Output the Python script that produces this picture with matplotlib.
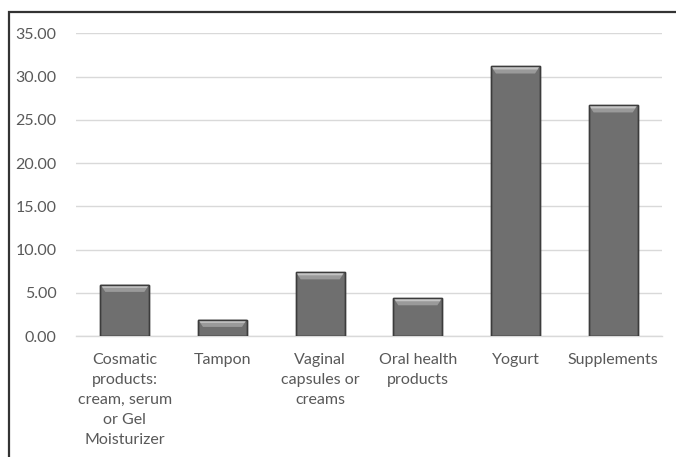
import matplotlib
matplotlib.use("Agg")
import matplotlib.pyplot as plt
from matplotlib.patches import Polygon, Rectangle
import numpy as np

categories = ["Cosmatic\nproducts:\ncream, serum\nor Gel\nMoisturizer",
              "Tampon",
              "Vaginal\ncapsules or\ncreams",
              "Oral health\nproducts",
              "Yogurt",
              "Supplements"]
values = [5.95, 1.9, 7.4, 4.4, 31.2, 26.7]
yticks = [0, 5, 10, 15, 20, 25, 30, 35]

plt.rcParams['font.family'] = ['Lato', 'DejaVu Sans']

fig = plt.figure(figsize=(6.76, 4.57), dpi=100)
ax = fig.add_axes([76/676, 1-336/457, (662-76)/676, (336-33.3)/457])

x = np.arange(len(categories))
bars = ax.bar(x, values, width=0.5, color='#6f6f6f', edgecolor='#3c3c3c',
              linewidth=1.0, zorder=3)

# bevel on top of each bar
bev_h = 0.85
bev_in = 0.05
for b in bars:
    x0 = b.get_x(); w = b.get_width(); h = b.get_height()
    hh = min(bev_h, h * 0.45)
    poly = Polygon([[x0, h], [x0 + w, h], [x0 + w - bev_in, h - hh], [x0 + bev_in, h - hh]],
                   closed=True, facecolor='#9a9a9a', edgecolor='none', zorder=4)
    ax.add_patch(poly)
    poly2 = Polygon([[x0 + 0.01, h - 0.05], [x0 + w - 0.01, h - 0.05],
                     [x0 + w - 0.025, h - hh * 0.45], [x0 + 0.025, h - hh * 0.45]],
                    closed=True, facecolor='#c4c4c4', edgecolor='none', zorder=4)
    ax.add_patch(poly2)
    ax.add_patch(Rectangle((x0, 0), w, h, facecolor='none', edgecolor='#3c3c3c',
                           linewidth=1.0, zorder=5))
    # subtle shadow
    ax.add_patch(Rectangle((x0 + 0.012, 0), w, h - 0.15, facecolor='#d0d0d0',
                           edgecolor='none', zorder=2))

ax.set_xlim(-0.5, len(categories) - 0.5)
ax.set_ylim(0, 35)
ax.set_yticks(yticks)
ax.set_yticklabels([f"{v:.2f}" for v in yticks])
ax.set_xticks(x)
ax.set_xticklabels(categories, linespacing=1.55, va='top')
ax.tick_params(axis='both', length=0, colors='#595959', labelsize=11.5)
ax.tick_params(axis='x', pad=12)
ax.tick_params(axis='y', pad=14)

ax.grid(axis='y', color='#d9d9d9', linewidth=1.0, zorder=0)
ax.set_axisbelow(True)
for s in ['top', 'right', 'left']:
    ax.spines[s].set_visible(False)
ax.spines['bottom'].set_color('#d9d9d9')
ax.spines['bottom'].set_linewidth(1.0)

# outer chart frame (cropped at right and bottom)
fig.add_artist(Rectangle((9/676, -0.05), 1.2, 1 - 12/457 + 0.05,
                         transform=fig.transFigure, facecolor='none',
                         edgecolor='#333333', linewidth=1.6))

fig.savefig("out.png", dpi=100)
